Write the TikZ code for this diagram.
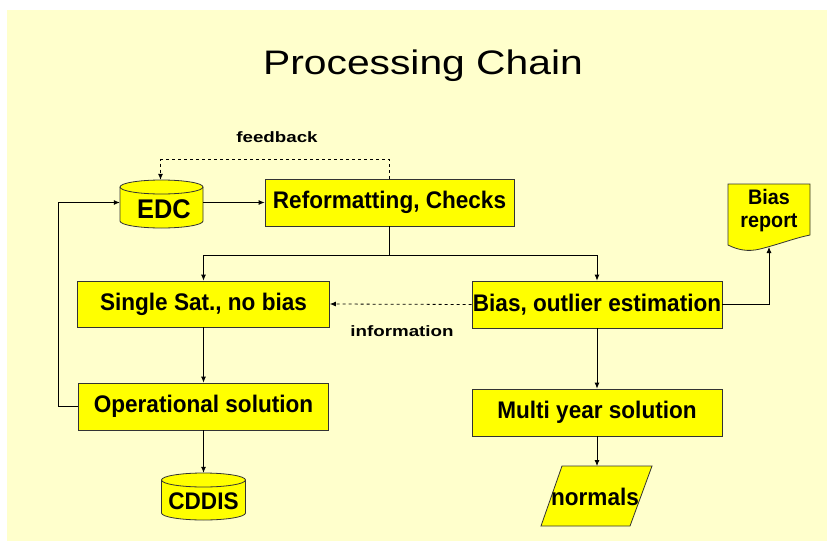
\documentclass[tikz,border=0pt]{standalone}
\usepackage{fontspec}
\setmainfont{Liberation Sans}
\newfontfamily\widefont[FakeStretch=1.2]{Liberation Sans}
\newfontfamily\lblfont[FakeStretch=1.25]{Liberation Sans}
\newfontfamily\narrowfont[FakeStretch=0.94]{Liberation Sans}
\usetikzlibrary{arrows.meta,calc}
\definecolor{bgyellow}{HTML}{FFFFCC}
\definecolor{boxyellow}{HTML}{FFFF00}
\definecolor{edge}{HTML}{333333}
\tikzset{
  box/.style={draw=edge, fill=boxyellow, line width=0.8pt, inner sep=0pt,
    font=\narrowfont\bfseries\fontsize{24}{26}\selectfont},
  shapeline/.style={draw=edge, fill=boxyellow, line width=0.8pt},
  holder/.style={inner sep=0pt, font=\narrowfont\bfseries\fontsize{24}{26}\selectfont},
  arr/.style={draw=black, line width=0.8pt, -{Latex[length=6pt,width=5pt]}},
  conn/.style={draw=black, line width=0.8pt},
  lbl/.style={inner sep=0pt, font=\lblfont\bfseries\fontsize{15}{17}\selectfont},
}
\begin{document}
\begin{tikzpicture}[x=1pt,y=1pt]
\useasboundingbox (0,0) rectangle (827,-541);
\fill[white] (0,0) rectangle (827,-541);
\fill[bgyellow] (7,-10) rectangle (827,-541);

% title
\node[inner sep=0pt, font=\widefont\fontsize{34}{38}\selectfont] (title) at (423,-66) {Processing Chain};

% EDC cylinder
\path[shapeline] (120,-187) -- (120,-221) arc[start angle=180,end angle=360,x radius=41.5,y radius=7]
  -- (203,-187) arc[start angle=0,end angle=180,x radius=41.5,y radius=7] -- cycle;
\draw[edge, line width=0.8pt] (120,-187) arc[start angle=180,end angle=360,x radius=41.5,y radius=7];
\node[holder, minimum width=83pt, minimum height=48pt] (edc) at (161.5,-204) {};
\node[holder, font=\narrowfont\bfseries\fontsize{27}{29}\selectfont] (edct) at (164,-209) {EDC};

% CDDIS cylinder
\path[shapeline] (161.5,-480) -- (161.5,-513) arc[start angle=180,end angle=360,x radius=42,y radius=7]
  -- (245.5,-480) arc[start angle=0,end angle=180,x radius=42,y radius=7] -- cycle;
\draw[edge, line width=0.8pt] (161.5,-480) arc[start angle=180,end angle=360,x radius=42,y radius=7];
\node[holder, minimum width=84pt, minimum height=47pt] (cddis) at (203.5,-496.5) {};
\node[holder] (cddist) at (203.5,-501) {CDDIS};

% boxes
\node[box, minimum width=249pt, minimum height=47pt] (reform) at (389.5,-202.5) {Reformatting, Checks};
\node[box, minimum width=252pt, minimum height=46pt] (ssat) at (203.5,-304) {Single Sat., no bias};
\node[box, minimum width=250pt, minimum height=47pt] (bias) at (597,-304.5) {Bias, outlier estimation};
\node[box, minimum width=250pt, minimum height=47pt] (oper) at (203.5,-406.5) {Operational solution};
\node[box, minimum width=250pt, minimum height=47pt] (multi) at (597,-412.5) {Multi year solution};

% bias report document
\path[shapeline] (728,-184) -- (810,-184) -- (810,-235)
  .. controls (795,-238) and (780,-244) .. (760,-249)
  .. controls (748,-252) and (738,-250) .. (728,-245) -- cycle;
\node[holder, align=center, font=\narrowfont\bfseries\fontsize{21}{23}\selectfont] (report) at (769,-211) {Bias\\report};
\coordinate (reportin) at (769,-247);

% normals parallelogram
\path[shapeline] (562,-466) -- (652,-466) -- (630,-526) -- (541,-526) -- cycle;
\node[holder] (normals) at (595,-497) {normals};
\coordinate (normalsin) at (597,-466);

% connectors
\draw[arr] (edc.east |- reform.west) -- (reform.west);
\draw[arr, dashed] (reform.north) -- ++(0,19) -| ($(edc.north)+(-1,0)$);
\node[lbl] (fb) at (277,-137) {feedback};

\coordinate (split) at (389.5,-255);
\draw[conn] (reform.south) -- (split);
\draw[arr] (split) -| (ssat.north);
\draw[arr] (split) -| (bias.north);

\draw[arr, dashed] (bias.west) -- (ssat.east);
\node[lbl] (info) at (402,-331) {information};

\draw[arr] (bias.east) -| (reportin);
\draw[arr] (ssat.south) -- (oper.north);
\draw[arr] (oper.west) -- ++(-20,0) |- (edc.west |- reform.west);
\draw[arr] (oper.south) -- (oper.south |- cddis.north);
\draw[arr] (bias.south) -- (multi.north);
\draw[arr] (multi.south) -- (normalsin);
\end{tikzpicture}
\end{document}
